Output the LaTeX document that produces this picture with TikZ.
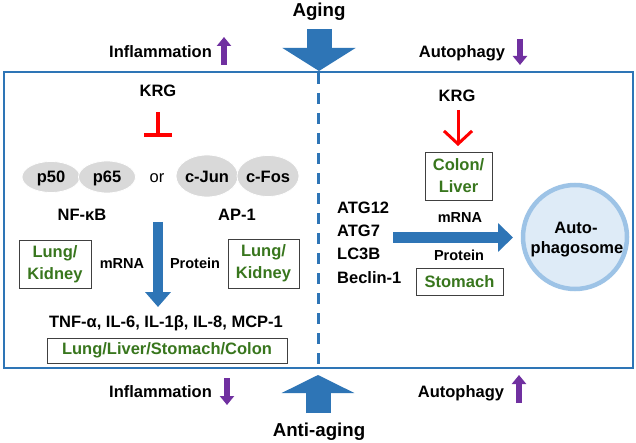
\documentclass[tikz,border=0pt]{standalone}
\usepackage{fontspec}
\setmainfont{Liberation Sans}
\usetikzlibrary{arrows.meta,shapes.geometric}
\definecolor{fblue}{RGB}{46,117,182}
\definecolor{apurple}{RGB}{112,48,160}
\definecolor{agreen}{RGB}{56,118,29}
\definecolor{cfill}{RGB}{222,235,247}
\definecolor{cedge}{RGB}{157,195,230}
\begin{document}
\begin{tikzpicture}[x=1pt,y=-1pt,
  lbl/.style={font=\bfseries\fontsize{16.5}{21}\selectfont, inner sep=0pt, anchor=base},
  big/.style={font=\bfseries\fontsize{18.7}{22}\selectfont, inner sep=0pt, anchor=base},
  small/.style={font=\bfseries\fontsize{14.5}{18}\selectfont, inner sep=0pt, anchor=base},
  gbox/.style={draw=black!75, line width=0.8pt, text=agreen, align=center, inner sep=0pt,
    font=\bfseries\fontsize{16.5}{22}\selectfont},
  prot/.style={ellipse, fill=black!15, draw=white, line width=0.8pt, inner sep=0pt,
    font=\bfseries\fontsize{16.5}{20}\selectfont},
  bigarrow/.style={fblue, line width=25pt, -{Triangle[width=72pt,length=23pt]}},
  midarrow/.style={fblue, line width=10pt, -{Triangle[width=25pt,length=15pt]}},
  parrow/.style={apurple, line width=6pt, -{Triangle[width=14pt,length=9pt]}},
]
\useasboundingbox (0,0) rectangle (636,443);
\fill[white] (0,0) rectangle (636,443);

% frame and divider
\coordinate (fTL) at (4,72);
\coordinate (fBR) at (633,368);
\draw[fblue, line width=2pt] (fTL) rectangle (fBR);
\coordinate (dTop) at (318.5,73);
\coordinate (dBot) at (318.5,367);
\draw[fblue, line width=3pt, dash pattern=on 11pt off 9pt] (dTop) -- (dBot);

% top
\node[big] (aging) at (319,17) {Aging};
\coordinate (agA) at (319,29);
\coordinate (agB) at (319,71);
\draw[bigarrow] (agA) -- (agB);
\node[lbl] (infl1) at (160.5,58) {Inflammation};
\coordinate (pu1a) at (224,65);
\coordinate (pu1b) at (224,37);
\draw[parrow] (pu1a) -- (pu1b);
\node[lbl] (auto1) at (462,58) {Autophagy};
\coordinate (pd1a) at (520,39);
\coordinate (pd1b) at (520,65);
\draw[parrow] (pd1a) -- (pd1b);

% bottom
\node[big] (antiaging) at (319,436) {Anti-aging};
\coordinate (aaA) at (318,413);
\coordinate (aaB) at (318,375);
\draw[bigarrow, -{Triangle[width=72pt,length=18pt]}] (aaA) -- (aaB);
\node[lbl] (infl2) at (160.5,397) {Inflammation};
\coordinate (pd2a) at (227,378);
\coordinate (pd2b) at (227,405);
\draw[parrow] (pd2a) -- (pd2b);
\node[lbl] (auto2) at (461,397) {Autophagy};
\coordinate (pu2a) at (519,403);
\coordinate (pu2b) at (519,375);
\draw[parrow] (pu2a) -- (pu2b);

% left panel
\node[lbl] (krg1) at (158,97) {KRG};
\coordinate (tA) at (158,112);
\coordinate (tB) at (158,137);
\draw[red, line width=3.5pt, -{Bar[width=28pt,line width=3.5pt]}] (tA) -- (tB);

\node[prot, minimum width=58pt, minimum height=31pt] (p50) at (51,177) {};
\node[prot, minimum width=57pt, minimum height=32pt] (p65) at (107,177) {};
\node[lbl] at (51,183) {p50};
\node[lbl] at (107,183) {p65};
\node[font=\fontsize{16.5}{20}\selectfont, inner sep=0pt, anchor=base] (or) at (157,183) {or};
\node[prot, minimum width=62pt, minimum height=42pt] (cjun) at (207,176) {};
\node[prot, minimum width=62pt, minimum height=41pt] (cfos) at (268,176) {};
\node[lbl] at (207,183) {c-Jun};
\node[lbl] at (268,183) {c-Fos};
\node[lbl] (nfkb) at (82,221) {NF-κB};
\node[lbl] (ap1) at (237,221) {AP-1};

\node[gbox, minimum width=72pt, minimum height=48pt] (lk1) at (55,264) {Lung/\\Kidney};
\node[small] (mrna1) at (122,269) {mRNA};
\node[small] (prot1) at (195,269) {Protein};
\node[gbox, minimum width=71pt, minimum height=49pt] (lk2) at (263.5,263.5) {Lung/\\Kidney};
\coordinate (arA) at (158,222);
\coordinate (arB) at (158,307);
\draw[midarrow] (arA) -- (arB);
\node[lbl] (tnf) at (166,327) {TNF-α, IL-6, IL-1β, IL-8, MCP-1};
\node[gbox, minimum width=240pt, minimum height=25pt] (llsc) at (167,350.5) {Lung/Liver/Stomach/Colon};

% right panel
\node[lbl] (krg2) at (457,102) {KRG};
\coordinate (rA) at (458,110);
\coordinate (rB) at (458,146);
\draw[red, line width=3pt, -{Straight Barb[width=28pt,length=13pt,line width=3pt]}] (rA) -- (rB);
\node[gbox, minimum width=67pt, minimum height=48pt] (cl) at (458.5,176) {Colon/\\Liver};
\node[small] (mrna2) at (460,223) {mRNA};
\node[small] (prot2) at (459,261) {Protein};
\node[gbox, minimum width=87pt, minimum height=27pt] (stom) at (459.5,281.5) {Stomach};

\node[lbl, anchor=base west] (atg12) at (337,214) {ATG12};
\node[lbl, anchor=base west] (atg7) at (337,237) {ATG7};
\node[lbl, anchor=base west] (lc3b) at (337,259) {LC3B};
\node[lbl, anchor=base west] (beclin) at (337,283) {Beclin-1};

\node[circle, fill=cfill, draw=cedge, line width=4.5pt, minimum size=104pt, inner sep=0pt] (auto) at (575,237) {};
\node[lbl] at (576,234) {Auto-};
\node[lbl] at (577,254) {phagosome};
\coordinate (hA) at (393,237.5);
\coordinate (hB) at (513,237.5);
\draw[fblue, line width=11pt, -{Triangle[width=28pt,length=15pt]}] (hA) -- (hB);
\end{tikzpicture}
\end{document}
